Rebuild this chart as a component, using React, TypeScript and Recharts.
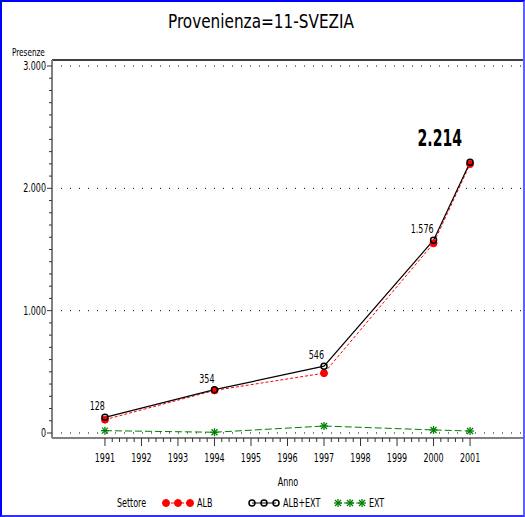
import { Line, LineChart, ReferenceLine, XAxis, YAxis } from "recharts";

const YEARS = [1991, 1994, 1997, 2000, 2001];
const ALB = [109, 348, 489, 1551, 2198];
const ALB_EXT = [128, 354, 546, 1576, 2214];
const EXT = [19, 6, 57, 25, 16];

const AXIS_YEARS = [1991, 1992, 1993, 1994, 1995, 1996, 1997, 1998, 1999, 2000, 2001];
const Y_MAJOR = [0, 1000, 2000, 3000];
const X_DOMAIN = [1989.55, 2002.45];
const Y_DOMAIN = [-41, 3049];

const FONT = '"DejaVu Sans Condensed", "DejaVu Sans", sans-serif';
const SQUEEZE = 0.74;

const data = YEARS.map((year, i) => ({ year, alb: ALB[i], albExt: ALB_EXT[i], ext: EXT[i] }));

// minor ticks: 4 between each year
const xTicks: number[] = [];
AXIS_YEARS.forEach((y, i) => {
  xTicks.push(y);
  if (i < AXIS_YEARS.length - 1) for (let k = 1; k < 5; k++) xTicks.push(+(y + k / 5).toFixed(2));
});
const yTicks: number[] = [];
for (let v = Y_MAJOR[0]; v <= Y_MAJOR[Y_MAJOR.length - 1]; v += 100) yTicks.push(v);

const fmt = (v: number) => v.toLocaleString("it-IT");

// narrow text, the SAS font is much more condensed than anything installed
function NText({ x, y, anchor = "start", size = 12, weight = 400, children, sx = SQUEEZE }: any) {
  return (
    <text
      transform={`translate(${x} ${y}) scale(${sx} 1)`}
      textAnchor={anchor}
      fontSize={size}
      fontWeight={weight}
      fontFamily={FONT}
      fill="#000"
    >
      {children}
    </text>
  );
}

function XTick({ x, y, payload }: any) {
  const v = payload.value as number;
  const major = Math.abs(v - Math.round(v)) < 1e-6;
  return (
    <g>
      <line x1={x} x2={x} y1={y} y2={y + (major ? 8 : 4)} stroke="#333" strokeWidth={1} />
      {major && (
        <NText x={x} y={y + 24} anchor="middle">
          {Math.round(v)}
        </NText>
      )}
    </g>
  );
}

function YTick({ x, y, payload }: any) {
  const v = payload.value as number;
  const major = v % 1000 === 0;
  return (
    <g>
      <line x1={x - (major ? 5 : 3)} x2={x} y1={y} y2={y} stroke="#333" strokeWidth={1} />
      {major && (
        <NText x={x - 6} y={y + 4} anchor="end">
          {fmt(v)}
        </NText>
      )}
    </g>
  );
}

const RedDot = ({ cx, cy }: any) => <circle cx={cx} cy={cy} r={3.5} fill="#ff0000" stroke="#ff0000" />;
const HollowDot = ({ cx, cy }: any) => (
  <circle cx={cx} cy={cy} r={3} fill="none" stroke="#000" strokeWidth={1.5} />
);
const StarDot = ({ cx, cy }: any) => (
  <g stroke="#008000" strokeWidth={1.3}>
    <line x1={cx - 4} x2={cx + 4} y1={cy} y2={cy} />
    <line x1={cx} x2={cx} y1={cy - 4} y2={cy + 4} />
    <line x1={cx - 3} x2={cx + 3} y1={cy - 3} y2={cy + 3} />
    <line x1={cx - 3} x2={cx + 3} y1={cy + 3} y2={cy - 3} />
  </g>
);

function ValueLabel(p: any) {
  const x = p.x ?? p.viewBox?.x;
  const y = p.y ?? p.viewBox?.y;
  if (x == null || y == null) return null;
  const last = p.index === ALB_EXT.length - 1;
  if (last) {
    return (
      <NText x={x - 8} y={y - 16} anchor="end" size={23} weight={700} sx={0.68}>
        {fmt(p.value)}
      </NText>
    );
  }
  return (
    <NText x={x} y={y - 7} anchor="end">
      {fmt(p.value)}
    </NText>
  );
}

const LEGEND = [
  { label: "ALB", color: "#ff0000", dash: "3 2", Dot: RedDot },
  { label: "ALB+EXT", color: "#000", dash: undefined, Dot: HollowDot },
  { label: "EXT", color: "#008000", dash: "4 2", Dot: StarDot },
];

export default function App() {
  return (
    <div style={{ position: "absolute", left: 0, top: 0, width: 525, height: 517, background: "#fff", fontFamily: FONT }}>
      <div
        style={{
          position: "absolute",
          left: 0,
          top: 0,
          width: 525,
          height: 517,
          boxSizing: "border-box",
          borderLeft: "2px solid #0000ff",
          borderTop: "2px solid #0000ff",
          borderBottom: "2px solid #3030ff",
          borderRight: "2px solid #6060ff",
          pointerEvents: "none",
          zIndex: 2,
        }}
      />

      <div style={{ position: "absolute", left: 0, top: 0 }}>
        <LineChart width={525} height={517} data={data} margin={{ top: 60, right: 2, bottom: 0, left: 0 }}>
          <XAxis
            dataKey="year"
            type="number"
            domain={X_DOMAIN}
            ticks={xTicks}
            interval={0}
            height={79}
            tickSize={0}
            tickMargin={0}
            tickLine={false}
            tick={<XTick />}
            axisLine={{ stroke: "#808080", strokeWidth: 2 }}
          />
          <YAxis
            type="number"
            domain={Y_DOMAIN}
            ticks={yTicks}
            interval={0}
            width={52}
            tickSize={0}
            tickMargin={0}
            tickLine={false}
            tick={<YTick />}
            axisLine={{ stroke: "#808080", strokeWidth: 2 }}
          />
          {Y_MAJOR.map((v) => (
            <ReferenceLine key={v} y={v} stroke="#000" strokeDasharray="1 8" strokeWidth={1} />
          ))}
          <ReferenceLine y={Y_DOMAIN[1]} stroke="#000" strokeWidth={1.5} />
          <Line
            dataKey="ext"
            stroke="#008000"
            strokeDasharray="7 3"
            strokeWidth={1}
            dot={<StarDot />}
            isAnimationActive={false}
          />
          <Line
            dataKey="alb"
            stroke="#ff0000"
            strokeDasharray="3 2"
            strokeWidth={1}
            dot={<RedDot />}
            isAnimationActive={false}
          />
          <Line
            dataKey="albExt"
            stroke="#000"
            strokeWidth={1.2}
            dot={<HollowDot />}
            label={<ValueLabel />}
            isAnimationActive={false}
          />
        </LineChart>
      </div>

      <svg width={525} height={517} style={{ position: "absolute", left: 0, top: 0, pointerEvents: "none" }}>
        <NText x={261} y={28} anchor="middle" size={20} sx={0.85}>
          Provenienza=11-SVEZIA
        </NText>
        <NText x={12} y={56} size={11} sx={0.74}>
          Presenze
        </NText>
        <NText x={288} y={486} anchor="middle">
          Anno
        </NText>
        <NText x={117} y={507}>
          Settore
        </NText>
        {LEGEND.map(({ label, color, dash, Dot }, i) => {
          const x0 = 166 + i * 86;
          return (
            <g key={label}>
              <line x1={x0} x2={x0 + 24} y1={503} y2={503} stroke={color} strokeDasharray={dash} />
              <Dot cx={x0} cy={503} />
              <Dot cx={x0 + 12} cy={503} />
              <Dot cx={x0 + 24} cy={503} />
              <NText x={x0 + 31} y={507}>
                {label}
              </NText>
            </g>
          );
        })}
      </svg>
    </div>
  );
}
